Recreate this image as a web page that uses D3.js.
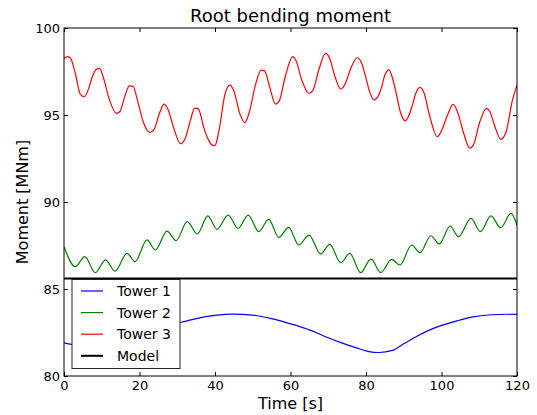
<!DOCTYPE html>
<html>
<head>
<meta charset="utf-8">
<script src="https://cdn.jsdelivr.net/npm/d3@7"></script>
<style>
  html, body { margin: 0; padding: 0; background: #fff; }
  svg { display: block; font-family: "DejaVu Sans", sans-serif; }
</style>
</head>
<body>
<div id="chart"></div>
<script>
// ---- data (time [s], moment [MNm]) ----
const tower1 = [[0, 81.9], [2, 81.82], [5, 81.95], [10, 82.2], [15, 82.45], [20, 82.7], [25, 82.9],
  [31, 83.09], [35, 83.3], [40, 83.48], [44.6, 83.56], [50, 83.5], [55, 83.3], [60.5, 82.97],
  [65, 82.65], [68.8, 82.3], [73, 81.95], [77.7, 81.6], [80.5, 81.42], [83.4, 81.35], [87, 81.47],
  [90, 81.85], [93.6, 82.3], [98, 82.75], [104.3, 83.18], [108, 83.38], [113.1, 83.52],
  [117, 83.55], [120, 83.54]];

const tower2 = [[0, 87.43], [3, 86.28], [5.5, 86.86], [8.3, 85.94], [11, 86.67], [13.5, 86.03],
  [16.7, 87.05], [18.8, 86.57], [22, 87.82], [24.2, 87.24], [27.3, 88.33], [29.7, 87.78],
  [32.65, 88.87], [35.3, 88.16], [38.1, 89.2], [40.5, 88.43], [43.5, 89.25], [46.1, 88.49],
  [48.8, 89.25], [51.6, 88.3], [54.2, 89.0], [56.9, 87.97], [59.5, 88.54], [62.2, 87.53],
  [64.9, 88.1], [68, 87.01], [70.4, 87.57], [73.3, 86.51], [75.7, 87.05], [78.6, 85.94],
  [81.3, 86.72], [83.9, 85.94], [86.8, 86.7], [89, 86.38], [92.1, 87.53], [94.3, 87.09],
  [97.2, 88.06], [99.4, 87.59], [102.3, 88.62], [104.5, 88.0], [107.8, 89.06], [110.3, 88.3],
  [113.1, 89.2], [115.7, 88.52], [118.4, 89.35], [120, 88.68]];

const tower3 = [[0, 98.25], [1, 98.35], [1.6, 98.3], [3, 97.4], [4.3, 96.2], [5.4, 96.05],
  [6.5, 96.5], [7.5, 97.2], [8.6, 97.63], [9.4, 97.68], [10.5, 97.1], [12, 95.9], [13.9, 95.09],
  [14.8, 95.2], [16.3, 96.2], [17.3, 96.67], [18.3, 96.65], [19.5, 95.8], [21, 94.6],
  [22.7, 94.0], [23.8, 94.15], [25.3, 95.1], [26.5, 95.63], [27.5, 95.35], [29, 94.3],
  [30.9, 93.35], [32, 93.6], [33.5, 94.7], [34.6, 95.4], [35.6, 95.35], [37, 94.3], [38.2, 93.6],
  [39.5, 93.24], [40.1, 93.28], [41, 94.04], [42.7, 96.25], [43.9, 96.72], [44.9, 96.44],
  [46.7, 95.0], [47.9, 94.56], [49, 95.1], [50.8, 96.8], [52.2, 97.58], [53.1, 97.55],
  [54.5, 96.6], [56, 95.63], [57, 95.8], [58.6, 97.2], [60.6, 98.35], [61.5, 98.1], [63, 97.0],
  [64.9, 96.25], [65.9, 96.4], [67.5, 97.6], [69.3, 98.54], [70.3, 98.3], [71.8, 97.2],
  [73.3, 96.49], [74.5, 96.8], [76, 97.7], [77.7, 98.29], [78.8, 98.0], [79.9, 97.2], [81, 96.3],
  [82.1, 95.86], [83.9, 96.44], [85, 97.3], [86.1, 97.59], [86.9, 97.2], [87.9, 96.34],
  [89.2, 95.1], [90.4, 94.66], [91.2, 94.9], [92.2, 95.5], [93.2, 96.25], [94.3, 96.59],
  [95.4, 96.25], [96.8, 95.0], [98.9, 93.75], [100, 94.1], [101.6, 95.0], [103.1, 95.61],
  [104.2, 95.2], [105.8, 94.0], [107.5, 93.09], [108.5, 93.3], [110, 94.5], [111.9, 95.38],
  [112.8, 95.2], [114.2, 94.3], [115.7, 93.6], [117.1, 94.04], [118.8, 95.86], [120, 96.72]];

const model = [[0, 85.6], [120, 85.6]];

const xTicks = [0, 20, 40, 60, 80, 100, 120];
const yTicks = [80, 85, 90, 95, 100];

const seriesNames = ["Tower 1", "Tower 2", "Tower 3", "Model"];
const seriesColors = ["#0000ff", "#008000", "#ff0000", "#000000"];

// ---- layout ----
const width = 537, height = 415;
const margin = { top: 28, right: 20, bottom: 39, left: 64 };
const W = width - margin.left - margin.right;
const H = height - margin.top - margin.bottom;

const svg = d3.select("#chart").append("svg")
    .attr("width", width)
    .attr("height", height);

const g = svg.append("g")
    .attr("transform", `translate(${margin.left},${margin.top})`);

const x = d3.scaleLinear().domain([0, 120]).range([0, W]);
const y = d3.scaleLinear().domain([80, 100]).range([H, 0]);

g.append("defs").append("clipPath").attr("id", "clip")
  .append("rect").attr("width", W).attr("height", H);

// ---- lines ----
const line = d3.line()
    .x(d => x(d[0]))
    .y(d => y(d[1]))
    .curve(d3.curveMonotoneX);

const plot = g.append("g").attr("clip-path", "url(#clip)");
const allSeries = [tower1, tower2, tower3, model];
allSeries.forEach((s, i) => {
    plot.append("path")
        .datum(s)
        .attr("fill", "none")
        .attr("stroke", seriesColors[i])
        .attr("stroke-width", i === 3 ? 2 : 1.2)
        .attr("d", line);
});

// ---- axes (ticks inside, matplotlib classic) ----
function styleAxis(sel) {
    sel.select(".domain").remove();
    sel.selectAll(".tick line").attr("stroke", "#000");
    sel.selectAll(".tick text")
        .attr("fill", "#000")
        .style("font-size", "13px")
        .style("font-family", "DejaVu Sans, sans-serif");
}

g.append("g")
    .attr("transform", `translate(0,${H})`)
    .call(d3.axisBottom(x).tickValues(xTicks).tickSize(-4).tickPadding(5).tickFormat(d3.format("d")))
    .call(styleAxis);

g.append("g")
    .call(d3.axisTop(x).tickValues(xTicks).tickSize(-4).tickFormat(""))
    .call(styleAxis);

g.append("g")
    .call(d3.axisLeft(y).tickValues(yTicks).tickSize(-4).tickPadding(4).tickFormat(d3.format("d")))
    .call(styleAxis);

g.append("g")
    .attr("transform", `translate(${W},0)`)
    .call(d3.axisRight(y).tickValues(yTicks).tickSize(-4).tickFormat(""))
    .call(styleAxis);

// frame
g.append("rect")
    .attr("width", W)
    .attr("height", H)
    .attr("fill", "none")
    .attr("stroke", "#000")
    .attr("stroke-width", 1);

// ---- titles ----
svg.append("text")
    .attr("x", margin.left + W / 2)
    .attr("y", 22)
    .attr("text-anchor", "middle")
    .style("font-size", "18px")
    .text("Root bending moment");

svg.append("text")
    .attr("x", margin.left + W / 2)
    .attr("y", 409)
    .attr("text-anchor", "middle")
    .style("font-size", "16px")
    .text("Time [s]");

svg.append("text")
    .attr("transform", `translate(28,${margin.top + H / 2}) rotate(-90)`)
    .attr("text-anchor", "middle")
    .style("font-size", "16px")
    .text("Moment [MNm]");

// ---- legend ----
const legend = g.append("g").attr("transform", "translate(8,251.5)");
legend.append("rect")
    .attr("width", 108)
    .attr("height", 89)
    .attr("fill", "#fff")
    .attr("stroke", "#222")
    .attr("stroke-width", 1);

seriesNames.forEach((name, i) => {
    const ly = 11.5 + i * 21.6;
    legend.append("line")
        .attr("x1", 9).attr("x2", 31)
        .attr("y1", ly).attr("y2", ly)
        .attr("stroke", seriesColors[i])
        .attr("stroke-width", i === 3 ? 2 : 1.2);
    legend.append("text")
        .attr("x", 45)
        .attr("y", ly + 5)
        .style("font-size", "14px")
        .text(name);
});
</script>
</body>
</html>
